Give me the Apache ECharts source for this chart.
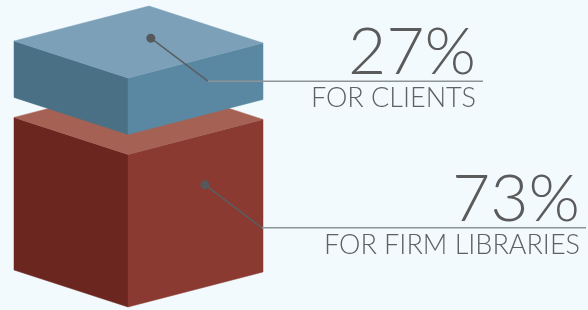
<!DOCTYPE html>
<html>
<head>
<meta charset="utf-8">
<script src="https://cdn.jsdelivr.net/npm/echarts@6/dist/echarts.min.js"></script>
<style>
  html, body { margin: 0; padding: 0; background: #f2fafd; }
  #main { width: 588px; height: 310px; }
</style>
</head>
<body>
<div id="main"></div>
<script>
  // data, bottom box first
  var categories = ['FOR FIRM LIBRARIES', 'FOR CLIENTS'];
  var shares = [73, 27];
  var shareLabels = ['73%', '27%'];

  var palette = [
    {top: '#a56153', left: '#6b2620', right: '#8a3a31'},
    {top: '#7ba0b8', left: '#4a7086', right: '#5a88a3'}
  ];

  var FRONT_X = 128;
  var LEFT = [-114, -37];   // front edge -> left edge
  var RIGHT = [135, -35];   // front edge -> right edge
  var GAP = 20;             // blue box floats above red
  var lineEnd = [586, 483];
  var textRight = [580, 476];

  var bases = [];
  var acc = 0;
  for (var i = 0; i < shares.length; i++) {
    bases.push(acc);
    acc += shares[i];
  }

  function add(p, v, k) {
    return [p[0] + v[0] * k, p[1] + v[1] * k];
  }

  function renderItem(params, api) {
    var idx = api.value(0);
    var val = api.value(1);
    var yBottom = api.coord([0, bases[idx]])[1] - idx * GAP;
    var yTop = api.coord([0, bases[idx] + val])[1] - idx * GAP;
    var f0 = [FRONT_X, yBottom];
    var f1 = [FRONT_X, yTop];
    var c = palette[idx];

    var leftFace = [f0, f1, add(f1, LEFT, 1), add(f0, LEFT, 1)];
    var rightFace = [f0, f1, add(f1, RIGHT, 1), add(f0, RIGHT, 1)];
    var topFace = [f1, add(f1, LEFT, 1), add(add(f1, LEFT, 1), RIGHT, 1), add(f1, RIGHT, 1)];

    var dot;
    if (idx === 0) {
      // on the right face
      dot = add(add(f1, RIGHT, 0.57), [0, yBottom - yTop], 0.33);
    } else {
      // on the top face
      dot = add(add(f1, LEFT, 0.51), RIGHT, 0.6);
    }
    var elbow = [dot[0] + 57, dot[1] + 43];
    var lineY = elbow[1];

    return {
      type: 'group',
      children: [
        {type: 'polygon', shape: {points: leftFace}, style: {fill: c.left, stroke: c.left, lineWidth: 0.5}},
        {type: 'polygon', shape: {points: rightFace}, style: {fill: c.right, stroke: c.right, lineWidth: 0.5}},
        {type: 'polygon', shape: {points: topFace}, style: {fill: c.top, stroke: c.top, lineWidth: 0.5}},
        {type: 'polyline', shape: {points: [dot, elbow]}, style: {stroke: '#5a5e60', lineWidth: 1.5, fill: null}},
        {type: 'line', shape: {x1: elbow[0], y1: lineY, x2: lineEnd[idx], y2: lineY}, style: {stroke: '#8d9497', lineWidth: 1.5}},
        {type: 'circle', shape: {cx: dot[0], cy: dot[1], r: 4.5}, style: {fill: '#55595b'}},
        {
          type: 'text',
          style: {
            x: textRight[idx], y: lineY + 5, text: shareLabels[idx],
            align: 'right', verticalAlign: 'bottom',
            fill: '#5b5b5b', font: '300 66px Lato, sans-serif'
          }
        },
        {
          type: 'text',
          style: {
            x: textRight[idx], y: lineY + 4, text: categories[idx],
            align: 'right', verticalAlign: 'top',
            fill: '#5e6062', font: '300 27px Lato, sans-serif'
          }
        }
      ]
    };
  }

  var myChart = echarts.init(document.getElementById('main'));
  var option = {
    backgroundColor: '#f2fafd',
    animation: false,
    grid: {left: 0, right: 0, top: 98, bottom: 3},
    xAxis: {type: 'value', min: 0, max: 1, show: false},
    yAxis: {type: 'value', min: 0, max: 100, show: false},
    series: [{
      type: 'custom',
      renderItem: renderItem,
      data: shares.map(function (v, i) { return [i, v]; })
    }]
  };
  myChart.setOption(option);
</script>
</body>
</html>
